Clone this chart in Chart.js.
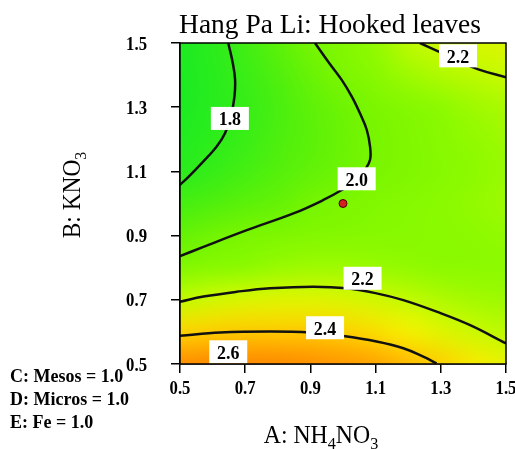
<!DOCTYPE html>
<html lang="en">
<head>
    <meta charset="UTF-8">
    <title>Hang Pa Li: Hooked leaves</title>
    <script src="https://cdn.jsdelivr.net/npm/chart.js"></script>
    <style>
        body { margin: 0; padding: 0; background: #ffffff; }
        #wrap { width: 515px; height: 449px; position: relative; }
    </style>
</head>
<body>
    <div id="wrap"><canvas id="contourChart" width="515" height="449"></canvas></div>

    <script>
        // axis ticks (A: NH4NO3 across, B: KNO3 up)
        const tickValues = [0.5, 0.7, 0.9, 1.1, 1.3, 1.5];
        const tickLabels = ['0.5', '0.7', '0.9', '1.1', '1.3', '1.5'];

        // response surface, grid of A x B (rows top B=1.5 to bottom B=0.5)
        const gridA = [0.5, 0.6, 0.7, 0.8, 0.9, 1.0, 1.1, 1.2, 1.3, 1.4, 1.5];
        const gridB = [1.5, 1.4, 1.3, 1.2, 1.1, 1.0, 0.9, 0.8, 0.7, 0.6, 0.5];
        const hookedLeaves = [
            [1.72, 1.77, 1.84, 1.91, 1.99, 2.05, 2.11, 2.18, 2.21, 2.23, 2.24],
            [1.71, 1.76, 1.82, 1.88, 1.95, 2.02, 2.08, 2.13, 2.16, 2.18, 2.20],
            [1.71, 1.76, 1.81, 1.86, 1.92, 1.97, 2.02, 2.06, 2.10, 2.13, 2.15],
            [1.73, 1.78, 1.82, 1.87, 1.91, 1.96, 2.00, 2.04, 2.08, 2.11, 2.13],
            [1.77, 1.81, 1.85, 1.89, 1.93, 1.97, 2.01, 2.04, 2.07, 2.10, 2.12],
            [1.85, 1.88, 1.91, 1.94, 1.99, 2.02, 2.05, 2.07, 2.09, 2.11, 2.13],
            [1.94, 1.98, 2.01, 2.03, 2.05, 2.06, 2.07, 2.08, 2.09, 2.10, 2.11],
            [2.05, 2.08, 2.10, 2.12, 2.13, 2.13, 2.12, 2.11, 2.10, 2.10, 2.10],
            [2.19, 2.22, 2.24, 2.25, 2.25, 2.24, 2.22, 2.19, 2.16, 2.14, 2.13],
            [2.38, 2.40, 2.41, 2.41, 2.41, 2.39, 2.35, 2.30, 2.25, 2.21, 2.18],
            [2.63, 2.66, 2.66, 2.65, 2.62, 2.58, 2.52, 2.45, 2.39, 2.32, 2.27]
        ];

        // contour lines, [A, B] points
        const contour18 = [[0.648, 1.5], [0.662, 1.437], [0.669, 1.385], [0.667, 1.333], [0.658, 1.281],
            [0.638, 1.219], [0.612, 1.177], [0.566, 1.125], [0.526, 1.083], [0.5, 1.058]];
        const contour20 = [[0.914, 1.5], [0.958, 1.437], [0.996, 1.385], [1.027, 1.333], [1.052, 1.281],
            [1.073, 1.229], [1.083, 1.177], [1.083, 1.136], [1.067, 1.104], [1.042, 1.073], [0.996, 1.042],
            [0.940, 1.011], [0.848, 0.969], [0.705, 0.917], [0.572, 0.865], [0.5, 0.836]];
        const contour22top = [[1.236, 1.5], [1.287, 1.476], [1.359, 1.442], [1.415, 1.418], [1.5, 1.393]];
        const contour22low = [[0.5, 0.694], [0.572, 0.710], [0.674, 0.725], [0.776, 0.736], [0.909, 0.741],
            [1.011, 0.736], [1.103, 0.720], [1.185, 0.699], [1.287, 0.663], [1.390, 0.621], [1.5, 0.564]];
        const contour24 = [[0.5, 0.588], [0.623, 0.598], [0.776, 0.601], [0.899, 0.598], [1.001, 0.587],
            [1.103, 0.570], [1.185, 0.549], [1.246, 0.523], [1.287, 0.502]];

        // contour labels and where they sit
        const contourLabels = ['2.2', '1.8', '2.0', '2.2', '2.4', '2.6'];
        const labelA = [1.353, 0.653, 1.042, 1.060, 0.945, 0.648];
        const labelB = [1.460, 1.265, 1.077, 0.767, 0.613, 0.538];

        // design point
        const designPoint = [[1.0, 1.0]];

        const factorNotes = ['C: Mesos = 1.0', 'D: Micros = 1.0', 'E: Fe = 1.0'];

        // colour ramp for the response
        const rampStops = [
            [1.70, [25, 235, 35]],
            [1.80, [50, 237, 25]],
            [1.90, [88, 240, 10]],
            [2.00, [120, 245, 0]],
            [2.10, [140, 250, 0]],
            [2.20, [200, 250, 0]],
            [2.30, [245, 240, 0]],
            [2.40, [255, 205, 0]],
            [2.50, [255, 168, 0]],
            [2.60, [255, 148, 0]],
            [2.70, [250, 128, 0]]
        ];

        function rampColor(v) {
            if (v <= rampStops[0][0]) return rampStops[0][1];
            for (let i = 1; i < rampStops.length; i++) {
                if (v <= rampStops[i][0]) {
                    const [v0, c0] = rampStops[i - 1];
                    const [v1, c1] = rampStops[i];
                    const t = (v - v0) / (v1 - v0);
                    return c0.map((c, k) => Math.round(c + (c1[k] - c) * t));
                }
            }
            return rampStops[rampStops.length - 1][1];
        }

        const toXY = pts => pts.map(p => ({ x: p[0], y: p[1] }));

        const serif = "'Liberation Serif', 'Times New Roman', serif";

        // draw text squeezed horizontally, like the original figure
        function squeezedText(ctx, parts, x, y, size, weight, align, sx) {
            ctx.save();
            ctx.translate(x, y);
            ctx.scale(sx, 1);
            let total = 0;
            parts.forEach(p => {
                ctx.font = weight + ' ' + (p.sub ? size * 0.68 : size) + 'px ' + serif;
                total += ctx.measureText(p.t).width;
            });
            let cx = align === 'center' ? -total / 2 : (align === 'right' ? -total : 0);
            ctx.textAlign = 'left';
            ctx.textBaseline = 'alphabetic';
            ctx.fillStyle = '#000';
            parts.forEach(p => {
                ctx.font = weight + ' ' + (p.sub ? size * 0.68 : size) + 'px ' + serif;
                ctx.fillText(p.t, cx, p.sub ? size * 0.22 : 0);
                cx += ctx.measureText(p.t).width;
            });
            ctx.restore();
        }

        const surfacePlugin = {
            id: 'surface',
            beforeDatasetsDraw(chart) {
                const { ctx, chartArea, scales } = chart;
                const off = document.createElement('canvas');
                off.width = gridA.length;
                off.height = gridB.length;
                const octx = off.getContext('2d');
                const img = octx.createImageData(off.width, off.height);
                hookedLeaves.forEach((row, r) => {
                    row.forEach((v, c) => {
                        const col = rampColor(v);
                        const i = (r * off.width + c) * 4;
                        img.data[i] = col[0];
                        img.data[i + 1] = col[1];
                        img.data[i + 2] = col[2];
                        img.data[i + 3] = 255;
                    });
                });
                octx.putImageData(img, 0, 0);
                const half = (gridA[1] - gridA[0]) / 2;
                const x0 = scales.x.getPixelForValue(gridA[0] - half);
                const x1 = scales.x.getPixelForValue(gridA[gridA.length - 1] + half);
                const y0 = scales.y.getPixelForValue(gridB[0] + half);
                const y1 = scales.y.getPixelForValue(gridB[gridB.length - 1] - half);
                ctx.save();
                ctx.beginPath();
                ctx.rect(chartArea.left, chartArea.top, chartArea.width, chartArea.height);
                ctx.clip();
                ctx.imageSmoothingEnabled = true;
                ctx.imageSmoothingQuality = 'high';
                ctx.drawImage(off, x0, y0, x1 - x0, y1 - y0);
                ctx.restore();
            },
            afterDatasetsDraw(chart) {
                const { ctx, chartArea, scales } = chart;
                // label boxes on the contours
                contourLabels.forEach((txt, i) => {
                    const px = scales.x.getPixelForValue(labelA[i]);
                    const py = scales.y.getPixelForValue(labelB[i]);
                    ctx.fillStyle = '#ffffff';
                    ctx.fillRect(px - 19, py - 11.5, 38, 23);
                    squeezedText(ctx, [{ t: txt }], px, py + 7, 19.5, 'bold', 'center', 0.92);
                });
                // frame
                ctx.save();
                ctx.strokeStyle = '#000';
                ctx.lineWidth = 1.5;
                ctx.strokeRect(chartArea.left, chartArea.top, chartArea.width, chartArea.height);
                ctx.restore();
            },
            afterDraw(chart) {
                const { ctx, chartArea, scales } = chart;
                // tick labels
                tickValues.forEach((v, i) => {
                    const px = scales.x.getPixelForValue(v);
                    squeezedText(ctx, [{ t: tickLabels[i] }], px, chartArea.bottom + 30, 19, 'bold', 'center', 0.88);
                    const py = scales.y.getPixelForValue(v);
                    squeezedText(ctx, [{ t: tickLabels[i] }], 147, py + 6.5, 19, 'bold', 'right', 0.88);
                });
                // title
                squeezedText(ctx, [{ t: 'Hang Pa Li: Hooked leaves' }], 330, 33, 28, 'normal', 'center', 0.98);
                // axis titles
                squeezedText(ctx, [{ t: 'A: NH' }, { t: '4', sub: true }, { t: 'NO' }, { t: '3', sub: true }],
                    321, 443, 25, 'normal', 'center', 0.95);
                ctx.save();
                ctx.translate(80, 195);
                ctx.rotate(-Math.PI / 2);
                squeezedText(ctx, [{ t: 'B: KNO' }, { t: '3', sub: true }], 0, 0, 26, 'normal', 'center', 0.9);
                ctx.restore();
                // fixed factor notes
                factorNotes.forEach((t, i) => {
                    squeezedText(ctx, [{ t: t }], 10, 382 + i * 23, 18, 'bold', 'left', 1.0);
                });
            }
        };

        const lineStyle = {
            showLine: true,
            borderColor: '#111111',
            borderWidth: 2.5,
            pointRadius: 0,
            tension: 0.4,
            fill: false
        };

        const axisCommon = (size, fitKey) => ({
            type: 'linear',
            min: 0.5,
            max: 1.5,
            afterBuildTicks: scale => { scale.ticks = tickValues.map(v => ({ value: v })); },
            afterFit: scale => { scale[fitKey] = size; },
            ticks: { display: false },
            grid: { drawOnChartArea: false, drawTicks: true, tickLength: 9, color: '#000', lineWidth: 1.5 },
            border: { display: true, color: '#000', width: 1.5 }
        });

        const ctx = document.getElementById('contourChart').getContext('2d');
        const chart = new Chart(ctx, {
            type: 'scatter',
            data: {
                datasets: [
                    { ...lineStyle, data: toXY(contour18) },
                    { ...lineStyle, data: toXY(contour20) },
                    { ...lineStyle, data: toXY(contour22top) },
                    { ...lineStyle, data: toXY(contour22low) },
                    { ...lineStyle, data: toXY(contour24) },
                    {
                        data: toXY(designPoint),
                        pointRadius: 4,
                        pointBackgroundColor: '#d42020',
                        pointBorderColor: '#4a0000',
                        pointBorderWidth: 1,
                        showLine: false
                    }
                ]
            },
            options: {
                responsive: false,
                animation: false,
                layout: { padding: { left: 0, top: 43, right: 9, bottom: 0 } },
                plugins: {
                    legend: { display: false },
                    tooltip: { enabled: false }
                },
                scales: {
                    x: axisCommon(85, 'height'),
                    y: axisCommon(180, 'width')
                }
            },
            plugins: [surfacePlugin]
        });
    </script>
</body>
</html>
